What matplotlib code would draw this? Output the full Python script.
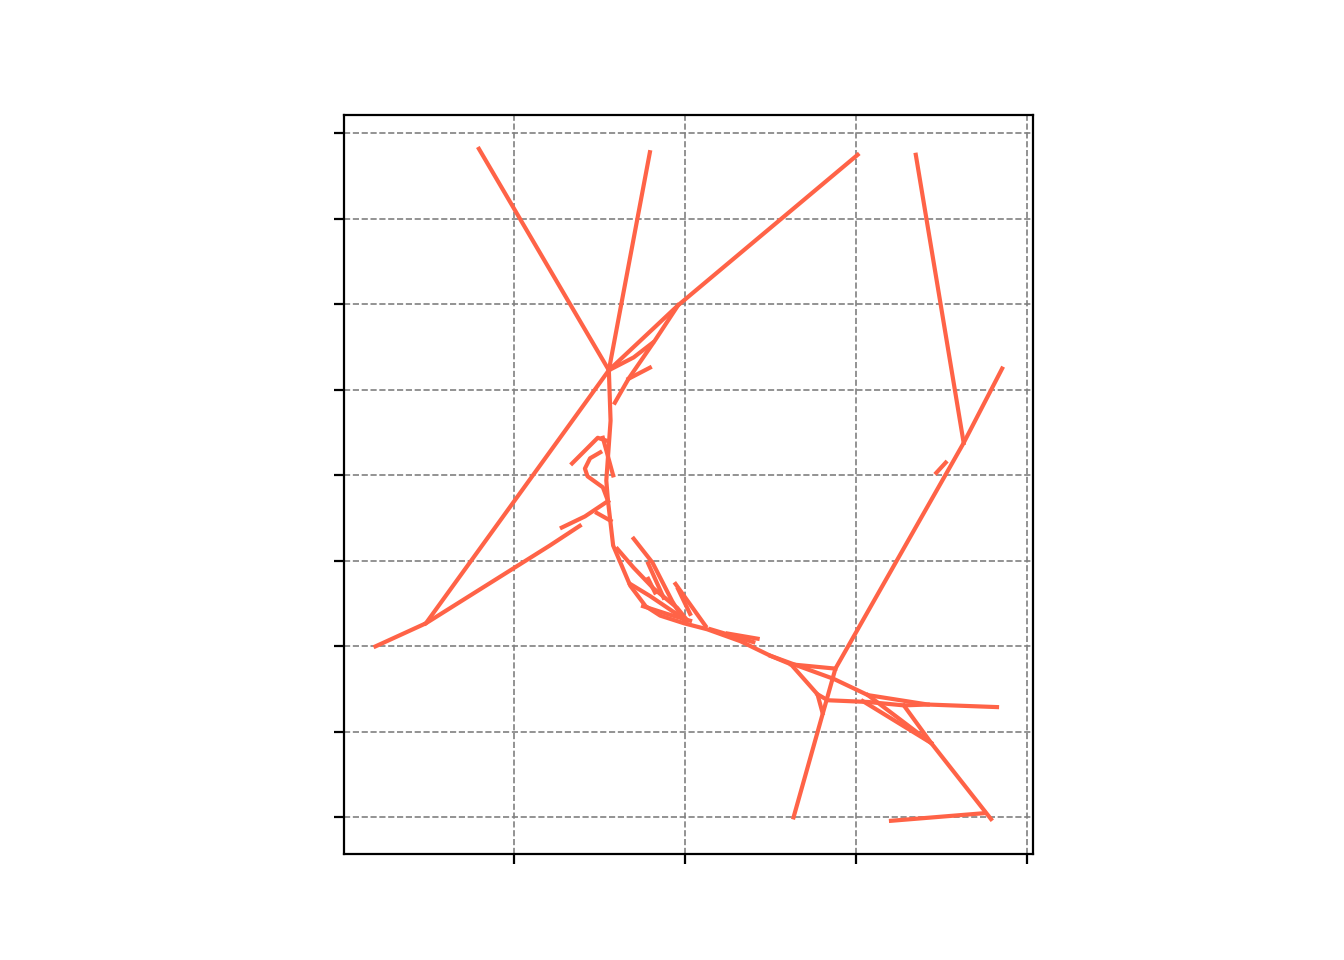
import matplotlib
matplotlib.use("Agg")
import matplotlib.pyplot as plt
from matplotlib.ticker import MultipleLocator

# path points (x, y)
top_left = [(-0.41, 7.82), (1.11, 5.23)]
trunk = [(1.59, 7.78), (1.11, 5.23), (1.13, 4.64), (1.08, 3.94), (1.10, 3.70),
         (1.16, 3.18), (1.36, 2.71), (1.54, 2.47), (1.71, 2.36), (1.99, 2.27),
         (2.26, 2.20), (2.65, 2.06), (3.00, 1.89), (3.24, 1.79), (3.55, 1.44),
         (3.61, 1.22)]
long_left = [(4.02, 7.75), (1.92, 5.99), (1.11, 5.23), (-1.03, 2.27), (-1.62, 2.00)]
upper_a = [(1.11, 5.23), (1.40, 5.38), (1.62, 5.55)]
upper_b = [(1.18, 4.85), (1.34, 5.13), (1.65, 5.58), (1.92, 5.99)]
upper_c = [(1.34, 5.13), (1.59, 5.26)]
left_a = [(-1.03, 2.27), (0.42, 3.18), (0.77, 3.41)]
left_b = [(0.56, 3.39), (0.83, 3.52), (1.10, 3.70)]
left_c = [(0.97, 3.56), (1.13, 3.47)]
mid_a = [(0.68, 4.14), (0.98, 4.44), (1.07, 4.41)]
mid_b = [(1.04, 4.44), (1.16, 4.00)]
loop = [(1.01, 4.27), (0.89, 4.20), (0.83, 4.08), (0.86, 3.99), (1.04, 3.86), (1.10, 3.70)]
cl_1 = [(1.21, 3.14), (1.40, 2.92), (1.63, 2.68), (1.91, 2.45), (2.03, 2.30)]
cl_2 = [(1.40, 3.26), (1.62, 2.98), (1.85, 2.53), (1.99, 2.30)]
cl_3 = [(1.57, 2.97), (1.75, 2.57)]
cl_4 = [(1.57, 2.79), (1.65, 2.63)]
cl_5 = [(1.89, 2.73), (2.24, 2.24)]
cl_6 = [(1.92, 2.67), (2.06, 2.38)]
cl_7 = [(1.51, 2.47), (1.79, 2.38), (2.06, 2.30)]
cl_8 = [(1.36, 2.73), (1.59, 2.59), (1.99, 2.32)]
cl_9 = [(2.30, 2.20), (2.80, 2.05)]
cl_10 = [(2.50, 2.15), (2.85, 2.09)]
low_1 = [(3.00, 1.89), (3.74, 1.62), (4.14, 1.43), (4.84, 1.32), (5.65, 1.29)]
low_2 = [(3.24, 1.79), (3.76, 1.74)]
low_3 = [(3.55, 1.44), (3.67, 1.37), (4.14, 1.35), (4.56, 1.31), (4.84, 1.32)]
low_4 = [(4.14, 1.43), (4.88, 0.87)]
low_5 = [(4.08, 1.36), (4.88, 0.87)]
low_6 = [(4.56, 1.31), (4.88, 0.87), (5.58, -0.02)]
low_7 = [(4.41, -0.04), (5.51, 0.05)]
diagonal = [(3.27, 0.00), (3.76, 1.74), (5.26, 4.38), (5.71, 5.25)]
upper_right = [(4.70, 7.75), (5.26, 4.38)]
stub = [(4.94, 4.03), (5.05, 4.15)]

paths = [top_left, trunk, long_left, upper_a, upper_b, upper_c, left_a, left_b,
         left_c, mid_a, mid_b, loop, cl_1, cl_2, cl_3, cl_4, cl_5, cl_6, cl_7,
         cl_8, cl_9, cl_10, low_1, low_2, low_3, low_4, low_5, low_6, low_7,
         diagonal, upper_right, stub]

fig, ax = plt.subplots(figsize=(6.72, 4.8), dpi=200)
for p in paths:
    xs = [pt[0] for pt in p]
    ys = [pt[1] for pt in p]
    ax.plot(xs, ys, color="tomato", linewidth=1.5)

ax.set_aspect("equal")
ax.xaxis.set_major_locator(MultipleLocator(2))
ax.yaxis.set_major_locator(MultipleLocator(1))
ax.set_xticklabels([])
ax.set_yticklabels([])
ax.grid(True, linestyle="--", color="gray", linewidth=0.6)
ax.set_axisbelow(True)

fig.savefig("out.png")
